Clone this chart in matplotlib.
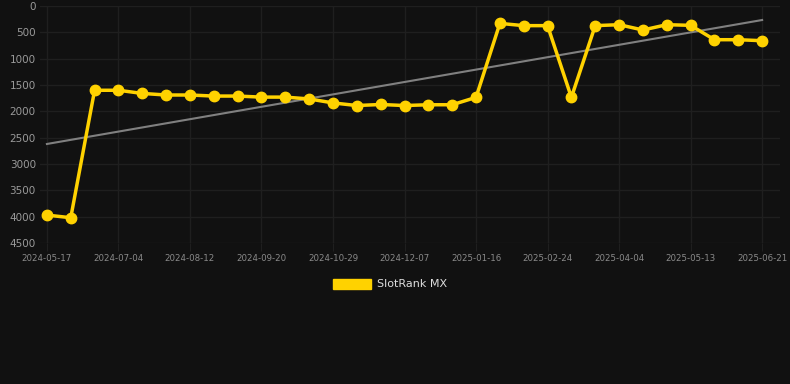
import numpy as np
import matplotlib
matplotlib.use("Agg")
import matplotlib.pyplot as plt

# rank values (lower = better, axis inverted)
ranks = [3970, 4020, 1600, 1600, 1660, 1690, 1690, 1710, 1710, 1730, 1730,
         1765, 1840, 1890, 1870, 1890, 1875, 1875, 1735, 330, 373, 373,
         1735, 373, 355, 456, 355, 367, 640, 640, 659]
tick_labels = ["2024-05-17", "2024-07-04", "2024-08-12", "2024-09-20",
               "2024-10-29", "2024-12-07", "2025-01-16", "2025-02-24",
               "2025-04-04", "2025-05-13", "2025-06-21"]
trend_ends = [2620, 266]

x = np.arange(len(ranks))
bg = "#111111"

fig = plt.figure(figsize=(7.9, 3.84), dpi=100, facecolor=bg)
ax = fig.add_axes([40 / 790, 1 - 243 / 384, 740 / 790, 237 / 384], facecolor=bg)

ax.plot([x[0], x[-1]], trend_ends, color="#808080", lw=1.5, zorder=2)
ax.plot(x, ranks, color="#ffd200", lw=2.5, marker="o", ms=7.5, zorder=3,
        label="SlotRank MX")

ax.set_ylim(4500, 0)
ax.set_yticks(range(0, 4501, 500))
ax.set_xlim(-0.29, 30.75)
ax.set_xticks(x[::3])
ax.set_xticklabels(tick_labels)

ax.grid(True, color="#1f1f1f", lw=1.0)
for s in ax.spines.values():
    s.set_visible(False)
ax.tick_params(axis="y", length=0, pad=3, labelsize=7.5, labelcolor="#9a9a9a")
ax.tick_params(axis="x", length=6, color="#1f1f1f", pad=2, labelsize=6.2,
               labelcolor="#8a8a8a")

leg = fig.legend(handles=[plt.Rectangle((0, 0), 1, 1, color="#ffd200")],
                 labels=["SlotRank MX"], loc="center", bbox_to_anchor=(390 / 790, 1 - 284 / 384),
                 frameon=False, handlelength=3.4, handleheight=1.0, fontsize=8,
                 labelcolor="#dddddd", handletextpad=0.5)

fig.savefig("out.png", dpi=100, facecolor=bg)
